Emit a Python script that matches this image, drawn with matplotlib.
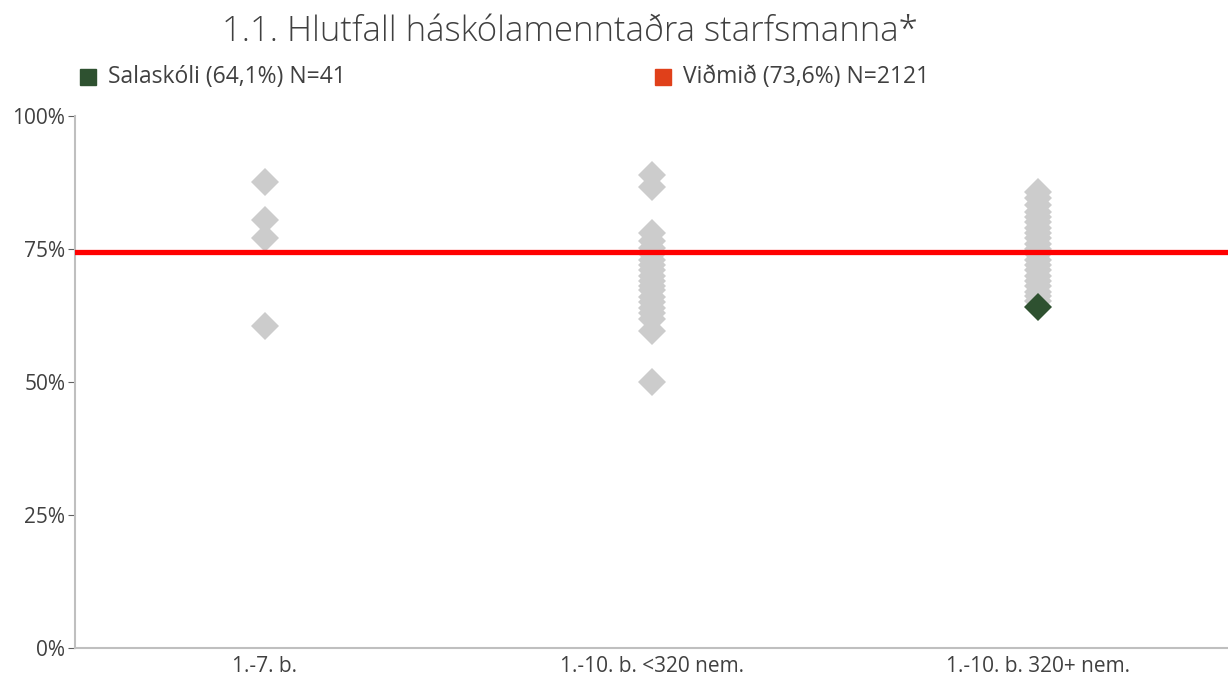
import numpy as np
import matplotlib.pyplot as plt

plt.rcParams['font.family'] = ['Open Sans', 'DejaVu Sans']

categories = ['1.-7. b.', '1.-10. b. <320 nem.', '1.-10. b. 320+ nem.']

# hlutfall (%) annarra skola i hverjum flokki
group_a = [87.6, 80.5, 77.1, 60.5]
group_b = [88.9, 86.7, 78.0, 76.5, 75.2, 74.0, 73.0, 72.0, 71.0, 70.0, 69.0,
           68.0, 67.2, 66.0, 65.0, 64.0, 63.0, 61.8, 59.5, 50.0]
group_c = [85.7, 84.5, 83.3, 82.0, 81.0, 80.0, 79.0, 78.0, 77.0, 76.0, 75.0,
           74.0, 73.0, 72.0, 71.0, 70.0, 69.0, 68.0, 67.0, 66.2, 65.2]
others = [group_a, group_b, group_c]

school_name = 'Salaskóli (64,1%) N=41'
school_cat = 2
school_value = 64.1

ref_name = 'Viðmið (73,6%) N=2121'
ref_line = 74.5

fig = plt.figure(figsize=(12.28, 6.75), dpi=100)
ax = fig.add_axes([75 / 1228, 1 - 648 / 675, 1153 / 1228, 532 / 675])

for i, vals in enumerate(others):
    ax.plot([i] * len(vals), vals, linestyle='none', marker='D', ms=14.5,
            color='#cccccc', markeredgewidth=0, zorder=2)
ax.plot([school_cat], [school_value], linestyle='none', marker='D', ms=14.5,
        color='#2e5130', markeredgewidth=0, zorder=4)
ax.axhline(ref_line, color='#ff0000', lw=3.8, zorder=3)

ax.set_xlim(-0.49, 2.49)
ax.set_ylim(0, 100)
ax.set_xticks(range(len(categories)))
ax.set_xticklabels(categories, fontsize=16)
ax.set_yticks([0, 25, 50, 75, 100])
ax.set_yticklabels(['0%', '25%', '50%', '75%', '100%'])
ax.tick_params(axis='both', labelsize=15, colors='#404040', length=5, color='#606060')
ax.tick_params(axis='x', length=0, pad=6)
ax.tick_params(axis='y', pad=2)
for s in ['top', 'right']:
    ax.spines[s].set_visible(False)
for s in ['left', 'bottom']:
    ax.spines[s].set_color('#bfbfbf')
    ax.spines[s].set_linewidth(1.5)

fig.text(570 / 1228, 1 - 32 / 675, '1.1. Hlutfall háskólamenntaðra starfsmanna*',
         ha='center', va='center', fontsize=25, color='#404040', fontweight='light')

# skyringar
fig.patches.append(plt.Rectangle((80 / 1228, 1 - 85 / 675), 16 / 1228, 16 / 675,
                                 transform=fig.transFigure, color='#2e5130'))
fig.text(108 / 1228, 1 - 77 / 675, school_name, va='center', fontsize=16.5, color='#404040')
fig.patches.append(plt.Rectangle((655 / 1228, 1 - 85 / 675), 16 / 1228, 16 / 675,
                                 transform=fig.transFigure, color='#e0401a'))
fig.text(683 / 1228, 1 - 77 / 675, ref_name, va='center', fontsize=16.5, color='#404040')

fig.savefig('out.png', dpi=100)
